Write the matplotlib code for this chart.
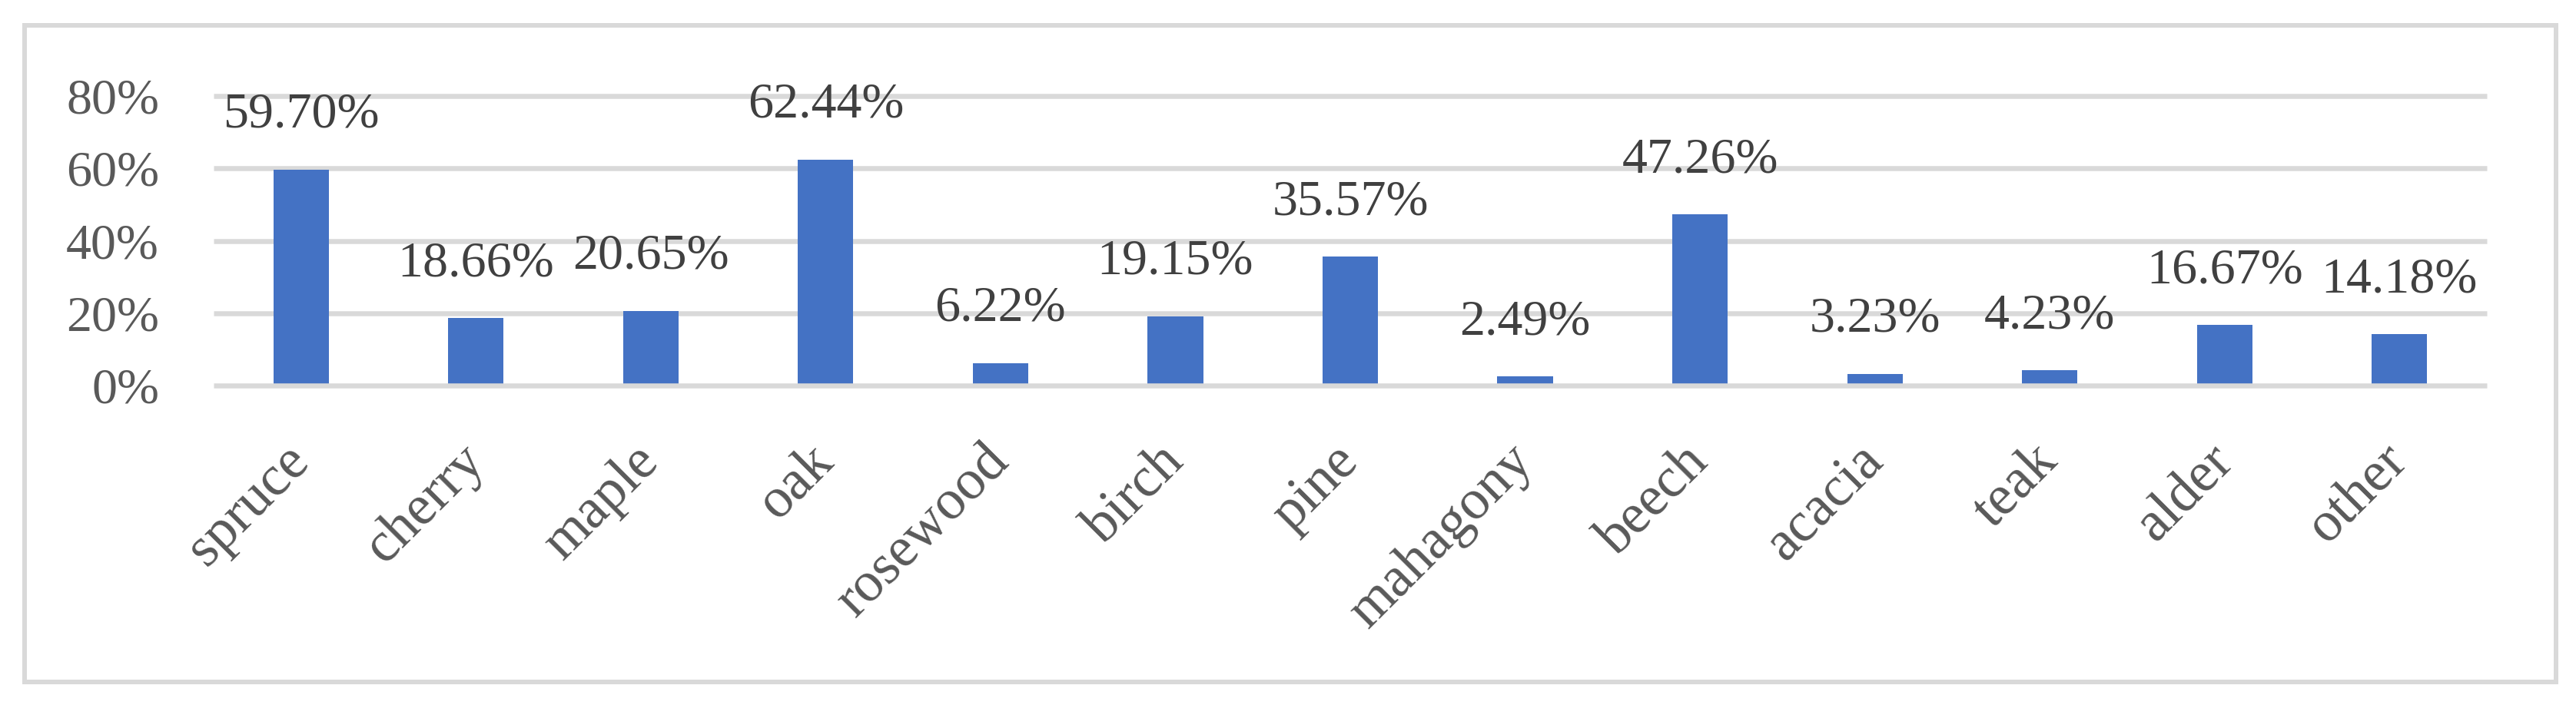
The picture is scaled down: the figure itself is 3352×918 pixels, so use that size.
import matplotlib.pyplot as plt
from matplotlib.patches import Rectangle
from matplotlib.transforms import ScaledTranslation

# ---- data ----
species = ["spruce", "cherry", "maple", "oak", "rosewood", "birch", "pine",
           "mahagony", "beech", "acacia", "teak", "alder", "other"]
shares = [59.70, 18.66, 20.65, 62.44, 6.22, 19.15, 35.57,
          2.49, 47.26, 3.23, 4.23, 16.67, 14.18]
y_ticks = [0, 20, 40, 60, 80]

DPI = 100
plt.rcParams['font.family'] = ['Liberation Serif', 'DejaVu Serif']
FS = 47.5      # value labels and y ticks
FS_X = 53      # category labels (reference font is wider)

fig = plt.figure(figsize=(33.52, 9.18), dpi=DPI)
fig.patch.set_facecolor('white')

# outer chart border
W, H = 3352, 918
fig.patches.append(Rectangle((32 / W, (H - 888) / H), (3326 - 32) / W, (888 - 33) / H,
                             transform=fig.transFigure, fill=False,
                             edgecolor='#d9d9d9', linewidth=6 * 72 / DPI))

ax = fig.add_axes([278 / W, (H - 502) / H, (3236 - 278) / W, (502 - 125) / H])
x = list(range(len(species)))

ax.set_xlim(-0.5, len(species) - 0.5)
ax.set_ylim(0, 80)

# grid lines and axis line
ax.hlines(y_ticks[1:], -0.5, len(species) - 0.5, colors='#d9d9d9',
          linewidth=6.5 * 72 / DPI, zorder=1, clip_on=False)
ax.hlines([0], -0.5, len(species) - 0.5, colors='#d9d9d9',
          linewidth=6.5 * 72 / DPI, zorder=3, clip_on=False)

bars = ax.bar(x, shares, width=0.317, color='#4472c4', zorder=2)

for bar, v in zip(bars, shares):
    ax.annotate(f"{v:.2f}%", (bar.get_x() + bar.get_width() / 2, v),
                xytext=(0, 55 * 72 / DPI), textcoords='offset points',
                ha='center', va='baseline', fontsize=FS, color='#404040')

for s in ax.spines.values():
    s.set_visible(False)

ax.set_yticks(y_ticks, [f"{t}%" for t in y_ticks])
ax.tick_params(axis='y', length=0, pad=71 * 72 / DPI, labelsize=FS, labelcolor='#595959')

ax.set_xticks(x, species, rotation=45, ha='right', va='baseline', rotation_mode='anchor')
ax.tick_params(axis='x', length=0, pad=101 * 72 / DPI, labelsize=FS_X, labelcolor='#595959')
shift = ScaledTranslation(13 / DPI, 0, fig.dpi_scale_trans)
for lab in ax.get_xticklabels():
    lab.set_transform(lab.get_transform() + shift)

ax.set_facecolor('none')
fig.savefig("out.png", dpi=DPI, facecolor='white')
